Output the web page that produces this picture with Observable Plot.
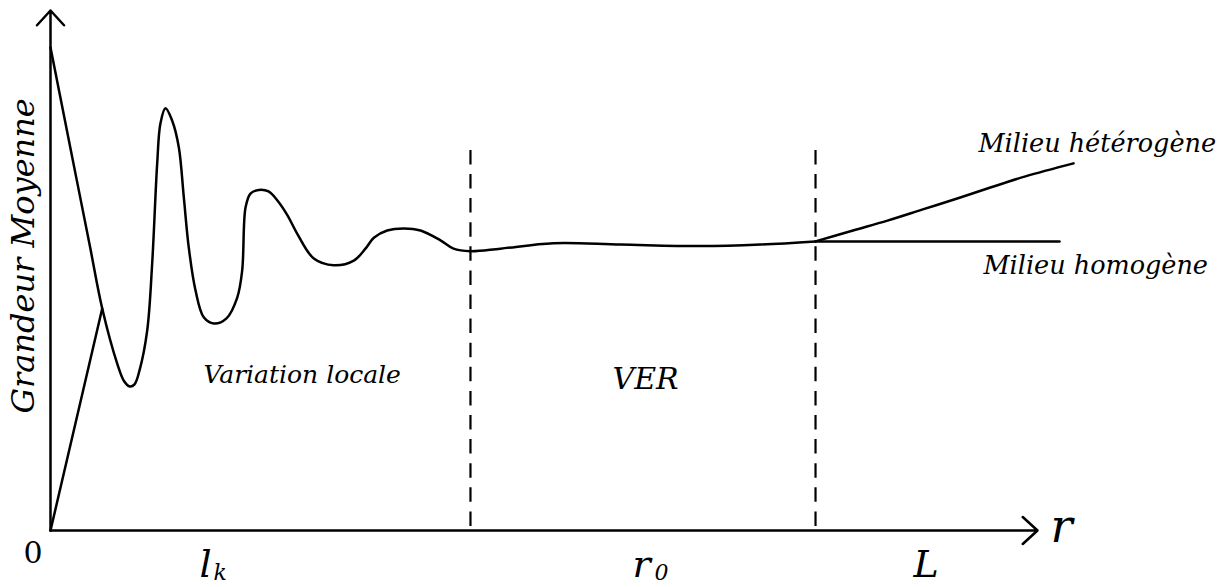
<!DOCTYPE html>
<html>
<head>
<meta charset="utf-8">
<script src="https://cdn.jsdelivr.net/npm/d3@7"></script>
<script src="https://cdn.jsdelivr.net/npm/@observablehq/plot@0.6"></script>
<style>
  html, body { margin: 0; padding: 0; background: white; }
  svg { display: block; }
</style>
</head>
<body>
<div id="chart"></div>
<script>
// ---- data (abstract units: r from 0 to 1000, grandeur from 0 to 100) ----
const curveX = [0, 20, 40, 52.4, 67.6, 74.3, 80.3, 85.1, 90.2, 98.0, 103.0, 108.1, 111.4, 116.5, 123.3, 130.0, 135.1, 140.1, 146.9, 155.3, 165.5, 178.3, 189.2, 194.2, 197.6, 202.6, 211.0, 220.9, 229.7, 240.1, 249.9, 266.8, 287.0, 307.3, 319.1, 327.6, 341.1, 358.0, 374.9, 395.1, 408.3, 425.5, 455.9, 509.6, 577.5, 658.6, 719.4, 775.1];
const curveY = [92.9, 73.7, 54.6, 42.7, 32.1, 28.8, 27.7, 28.1, 30.8, 38.5, 51.3, 70.6, 78.3, 81.2, 78.8, 73.7, 64.0, 54.4, 46.2, 41.0, 39.8, 40.8, 44.8, 50.0, 62.1, 64.8, 65.5, 65.2, 63.5, 60.6, 57.1, 52.3, 51.0, 51.9, 54.2, 56.3, 57.7, 58.1, 57.7, 55.8, 54.2, 53.7, 54.2, 55.25, 55.0, 54.7, 55.0, 55.6];

const riseX = [0, 52.4];
const riseY = [0, 42.7];

const hetX = [775.1, 813.1, 848.0, 883.0, 917.9, 953.0, 987.8, 1036.5];
const hetY = [55.6, 57.7, 59.6, 61.7, 63.8, 66.0, 68.1, 70.6];

const homX = [775.1, 1022.3];
const homY = [55.6, 55.6];

const boundaryX = [425.5, 775.1];
const boundaryTop = 73.1;

// tick labels along r (main symbol and its subscript)
const tickBase = ["l", "r", "L"];
const tickX = [151.0, 589.7, 874.4];
const tickSub = ["k", "0"];
const tickSubX = [165.1, 612.0];

// region / curve labels
const regionLabels = ["Variation locale", "VER"];
const regionX = [155.0, 569.4];
const regionY = [28.3, 27.3];

const curveLabels = ["Milieu hétérogène", "Milieu homogène"];
const curveLabelX = [940.2, 945.3];
const curveLabelY = [72.7, 49.4];

const yTitle = "Grandeur Moyenne";
const xTitle = "r";
const originLabel = "0";

// ---- build tables ----
const toRows = (xs, ys) => xs.map((x, i) => ({x, y: ys[i]}));
const curve = toRows(curveX, curveY);
const rise = toRows(riseX, riseY);
const het = toRows(hetX, hetY);
const hom = toRows(homX, homY);
const ticks = tickBase.map((t, i) => ({t, x: tickX[i]}));
const subs = tickSub.map((t, i) => ({t, x: tickSubX[i]}));
const regions = regionLabels.map((t, i) => ({t, x: regionX[i], y: regionY[i]}));
const curveLab = curveLabels.map((t, i) => ({t, x: curveLabelX[i], y: curveLabelY[i]}));

const serif = "'DejaVu Serif', serif";
const lineOpts = {x: "x", y: "y", stroke: "black", strokeWidth: 2.5, strokeLinejoin: "round", strokeLinecap: "round"};

const chart = Plot.plot({
  width: 1221,
  height: 587,
  marginLeft: 50,
  marginRight: 184,
  marginTop: 10,
  marginBottom: 57,
  x: {domain: [0, 1000], axis: null},
  y: {domain: [0, 100], axis: null},
  style: {background: "white"},
  marks: [
    // dashed boundaries
    Plot.ruleX(boundaryX, {x: d => d, y1: boundaryTop, y2: 0, stroke: "black", strokeWidth: 2.2, strokeDasharray: "14.5,9.6"}),
    // axes with arrows
    Plot.arrow([{x1: 0, y1: 0, x2: 0, y2: 100}], {x1: "x1", y1: "y1", x2: "x2", y2: "y2", stroke: "black", strokeWidth: 2.5, headLength: 12, headAngle: 85}),
    Plot.arrow([{x1: 0, y1: 0, x2: 1000, y2: 0}], {x1: "x1", y1: "y1", x2: "x2", y2: "y2", stroke: "black", strokeWidth: 2.5, headLength: 12, headAngle: 85}),
    // curves
    Plot.line(rise, {...lineOpts}),
    Plot.line(curve, {...lineOpts, curve: "catmull-rom"}),
    Plot.line(hom, {...lineOpts}),
    Plot.line(het, {...lineOpts, curve: "catmull-rom"}),
    // tick labels
    Plot.text(ticks, {x: "x", y: -8.9, text: "t", textAnchor: "start", lineAnchor: "bottom", fontFamily: serif, fontStyle: "italic", fontSize: 38, fill: "black"}),
    Plot.text(subs, {x: "x", y: -9.6, text: "t", textAnchor: "start", lineAnchor: "bottom", fontFamily: serif, fontStyle: "italic", fontSize: 22, fill: "black"}),
    Plot.text([originLabel], {x: -17.7, y: -6.3, text: d => d, textAnchor: "middle", lineAnchor: "bottom", fontFamily: serif, fontSize: 30, fill: "black"}),
    Plot.text([xTitle], {x: 1013.2, y: -2.3, text: d => d, textAnchor: "start", lineAnchor: "bottom", fontFamily: serif, fontStyle: "italic", fontSize: 46, fill: "black"}),
    Plot.text([yTitle], {x: -17.2, y: 22.5, text: d => d, rotate: -90, textAnchor: "start", lineAnchor: "bottom", fontFamily: serif, fontStyle: "italic", fontSize: 32, fill: "black"}),
    // region labels
    Plot.text(regions.slice(0, 1), {x: "x", y: "y", text: "t", textAnchor: "start", lineAnchor: "bottom", fontFamily: serif, fontStyle: "italic", fontSize: 25, fill: "black"}),
    Plot.text(regions.slice(1), {x: "x", y: "y", text: "t", textAnchor: "start", lineAnchor: "bottom", fontFamily: serif, fontStyle: "italic", fontSize: 30, fill: "black"}),
    Plot.text(curveLab, {x: "x", y: "y", text: "t", textAnchor: "start", lineAnchor: "bottom", fontFamily: serif, fontStyle: "italic", fontSize: 25.5, fill: "black"})
  ]
});
document.getElementById("chart").appendChild(chart);
</script>
</body>
</html>
